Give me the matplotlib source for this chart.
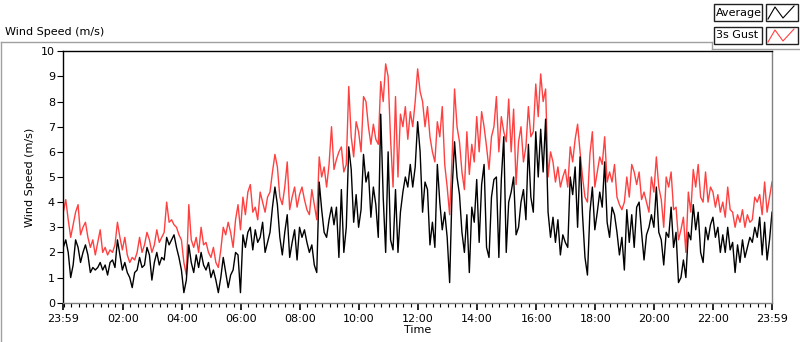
import matplotlib
matplotlib.use("Agg")
import matplotlib.pyplot as plt
from matplotlib.lines import Line2D
from matplotlib.patches import Rectangle
import numpy as np

# 5-minute samples, from 23:59 (previous day) to 23:59
gust = [
    3.6, 4.1, 3.3, 2.6, 3.1, 3.6, 3.9, 2.7, 3.0, 3.2, 2.6, 2.2, 2.5, 1.9, 2.4, 2.9, 2.0, 2.2, 1.9, 2.1,
    2.0, 2.3, 3.2, 2.6, 2.1, 2.6, 1.9, 1.6, 1.8, 1.7, 2.0, 2.6, 2.0, 2.3, 2.8, 2.5, 2.0, 2.3, 2.9, 2.4,
    2.6, 2.8, 4.0, 3.2, 3.3, 3.1, 3.0, 2.7, 2.5, 1.6, 1.1, 3.9, 2.5, 2.2, 2.6, 2.0, 3.0, 2.3, 2.4, 2.0,
    1.8, 2.2, 1.6, 1.4, 2.1, 3.0, 2.7, 3.2, 2.8, 2.2, 3.3, 3.9, 2.9, 4.2, 3.5, 4.4, 4.7, 3.6, 3.8, 3.3,
    4.4, 4.0, 3.6, 4.2, 4.4, 5.2, 5.9, 5.4, 4.2, 3.9, 4.6, 5.6, 3.7, 4.2, 4.6, 3.8, 4.3, 4.6, 4.1, 3.7,
    3.5, 4.5, 3.9, 3.3, 5.8, 5.0, 5.4, 4.6, 5.5, 7.0, 5.3, 5.7, 6.0, 6.2, 5.2, 5.5, 8.6, 6.6, 5.8, 7.2,
    6.8, 6.0, 8.2, 8.0, 7.0, 6.3, 7.1, 6.5, 6.3, 8.8, 8.0, 9.5, 9.0, 6.5, 4.6, 8.2, 5.0, 7.5, 7.0, 7.8,
    6.5, 7.6, 7.0, 8.0, 9.3, 8.4, 8.0, 7.0, 7.8, 6.6, 6.0, 5.6, 7.2, 6.6, 7.8, 5.5, 4.6, 3.5, 5.8, 8.5,
    7.0, 6.4, 5.2, 4.5, 6.8, 5.1, 6.3, 5.6, 7.4, 6.0, 7.6, 7.0, 6.2, 5.3, 6.6, 7.0, 8.2, 6.0, 7.4, 6.8,
    6.4, 8.1, 6.0, 7.7, 4.7, 6.4, 7.0, 5.6, 6.2, 7.8, 6.6, 6.8, 8.7, 7.4, 9.1, 8.0, 8.5, 5.0, 6.0, 5.6,
    4.8, 5.4, 4.6, 5.0, 5.3, 4.6, 6.2, 5.6, 6.5, 7.1, 6.0, 5.0, 4.2, 4.0, 5.9, 6.8, 4.6, 5.2, 5.8, 5.5,
    6.6, 4.8, 5.2, 4.8, 5.5, 4.2, 3.9, 3.7, 4.0, 5.0, 4.2, 5.5, 5.2, 4.7, 5.2, 4.1, 4.4, 4.0, 3.6, 5.0,
    4.4, 5.8, 4.6, 4.1, 3.0, 5.0, 4.6, 5.2, 3.7, 3.8, 2.5, 2.9, 3.4, 2.0, 4.4, 3.6, 5.3, 4.6, 5.5, 4.2,
    4.0, 5.2, 4.0, 4.6, 4.4, 3.8, 4.3, 3.6, 4.0, 3.4, 4.6, 3.7, 3.6, 3.0, 3.5, 3.2, 3.7, 3.0, 3.5, 3.2,
    3.3, 4.2, 4.0, 4.3, 3.5, 4.8, 3.6, 4.2, 4.8,
]
average = [
    2.2, 2.5, 2.0, 1.0, 1.5, 2.5, 2.2, 1.6, 2.0, 2.3, 1.9, 1.2, 1.4, 1.3, 1.4, 1.6, 1.3, 1.5, 1.1, 1.6,
    1.7, 1.4, 2.5, 1.9, 1.3, 1.6, 1.2, 1.0, 0.6, 1.2, 1.3, 1.8, 1.4, 1.5, 2.2, 1.9, 0.9, 1.6, 2.0, 1.5,
    1.8, 1.7, 2.6, 2.3, 2.5, 2.7, 2.2, 1.8, 1.3, 0.4, 0.9, 2.3, 1.6, 1.2, 1.9, 1.4, 2.0, 1.5, 1.3, 1.6,
    1.0, 1.3, 0.9, 0.4, 1.0, 1.8, 1.2, 0.6, 1.1, 1.3, 2.0, 1.9, 0.4, 2.7, 2.2, 2.8, 3.0, 2.1, 2.9, 2.4,
    2.6, 3.2, 2.0, 2.4, 2.8, 3.8, 4.6, 3.9, 2.6, 1.9, 2.8, 3.5, 1.8, 2.4, 2.9, 1.7, 3.0, 2.6, 2.9, 2.4,
    2.0, 2.3, 1.5, 1.2, 4.8, 3.7, 2.8, 2.6, 3.3, 3.8, 3.1, 3.8, 1.8, 4.5, 2.0, 3.0, 6.2, 5.3, 3.2, 4.3,
    3.0, 3.7, 5.9, 4.8, 5.2, 3.4, 4.6, 3.9, 2.6, 7.5, 4.2, 2.0, 6.0, 2.5, 2.1, 4.5, 2.0, 3.6, 4.4, 5.0,
    4.6, 5.5, 4.6, 5.4, 7.2, 6.0, 3.6, 4.8, 4.5, 2.3, 3.2, 2.2, 5.5, 4.0, 2.9, 3.6, 2.6, 0.8, 4.5, 6.4,
    5.0, 4.3, 2.8, 2.0, 3.5, 1.2, 3.8, 3.2, 4.9, 2.4, 4.7, 5.5, 2.2, 1.8, 4.2, 4.9, 5.0, 1.8, 4.9, 6.6,
    2.0, 4.0, 4.4, 5.0, 2.7, 3.0, 4.0, 4.5, 3.3, 6.3, 4.2, 3.6, 6.8, 5.0, 6.9, 5.2, 7.3, 3.6, 2.6, 3.4,
    2.4, 3.3, 1.9, 2.7, 2.4, 2.2, 5.0, 4.3, 5.4, 3.0, 5.8, 3.5, 1.8, 1.1, 3.6, 4.6, 2.9, 3.6, 4.4, 3.8,
    5.6, 3.2, 2.6, 3.8, 3.5, 2.8, 1.9, 2.6, 1.3, 3.7, 2.4, 3.5, 2.2, 3.8, 4.0, 2.8, 1.7, 2.7, 3.0, 3.5,
    3.0, 4.6, 2.8, 2.5, 1.5, 2.8, 2.6, 3.8, 2.2, 2.8, 0.8, 1.0, 1.7, 1.0, 2.8, 2.5, 3.9, 2.9, 3.6, 2.0,
    1.6, 3.0, 2.5, 3.1, 3.4, 2.6, 3.0, 2.0, 2.7, 2.0, 3.0, 2.1, 2.4, 1.2, 2.3, 1.6, 2.5, 1.8, 2.2, 2.6,
    2.4, 3.0, 2.6, 3.4, 1.9, 3.2, 1.7, 2.5, 3.6,
]
minutes = np.arange(len(gust)) * 5

major_ticks = [0, 121, 241, 361, 481, 601, 721, 841, 961, 1081, 1201, 1321, 1440]
major_labels = ["23:59", "02:00", "04:00", "06:00", "08:00", "10:00", "12:00",
                "14:00", "16:00", "18:00", "20:00", "22:00", "23:59"]
minor_ticks = list(range(1, 1440, 15))

W, H = 800, 342
fig = plt.figure(figsize=(W / 100, H / 100), dpi=100)
plt.rcParams['font.family'] = 'DejaVu Sans'


def fx(x):
    return x / W


def fy(y):
    return 1 - y / H


# plot area
ax = fig.add_axes([fx(63.3), fy(302.7), (772 - 63.3) / W, (302.7 - 51.3) / H])
ax.plot(minutes, gust, color="#ff4040", lw=1.0)
ax.plot(minutes, average, color="black", lw=1.0)
ax.set_xlim(0, 1440)
ax.set_ylim(0, 10)
ax.set_yticks(range(0, 11))
ax.set_xticks(major_ticks)
ax.set_xticklabels(major_labels)
ax.set_xticks(minor_ticks, minor=True)
ax.tick_params(axis="both", which="major", labelsize=8, colors="black", length=4, width=0.8, pad=2)
ax.tick_params(axis="x", which="major", length=5, width=1.2, pad=3)
ax.tick_params(axis="x", which="minor", length=3, width=0.8)
ax.spines["top"].set_color("black")
ax.spines["left"].set_color("black")
ax.spines["right"].set_color("#808080")
ax.spines["bottom"].set_color("#808080")
for s in ax.spines.values():
    s.set_linewidth(1)
ax.set_xlabel("Time", fontsize=8, labelpad=1)
ax.set_ylabel("Wind Speed (m/s)", fontsize=8, labelpad=4)

# outer frame of the chart
frame = "#a0a0a0"
fig.add_artist(Line2D([fx(0.5), fx(712)], [fy(42), fy(42)], color=frame, lw=1))
fig.add_artist(Line2D([fx(0.5), fx(0.5)], [fy(42), fy(342)], color=frame, lw=1))
fig.add_artist(Line2D([fx(712), fx(800)], [fy(48.5), fy(48.5)], color=frame, lw=1))
fig.add_artist(Line2D([fx(712), fx(712)], [fy(42), fy(48.5)], color=frame, lw=1))

fig.text(fx(5), fy(32), "Wind Speed (m/s)", fontsize=8, va="center", ha="left")

# legend boxes
legend_names = ["Average", "3s Gust"]
legend_colors = ["black", "#ff4040"]
for i, (name, col) in enumerate(zip(legend_names, legend_colors)):
    top = 4 + i * 23
    fig.add_artist(Rectangle((fx(713.5), fy(top + 17)), 48 / W, 17 / H,
                             fill=False, edgecolor="#202020", lw=1))
    fig.text(fx(716), fy(top + 8.5), name, fontsize=8, va="center", ha="left")
    fig.add_artist(Rectangle((fx(765.5), fy(top + 17)), 32 / W, 17 / H,
                             fill=False, edgecolor="#202020", lw=1))
    zx = [768, 775, 783, 794]
    zy = [top + 15, top + 3, top + 14, top + 2]
    fig.add_artist(Line2D([fx(v) for v in zx], [fy(v) for v in zy], color=col, lw=0.8))

fig.savefig("out.png", dpi=100)
